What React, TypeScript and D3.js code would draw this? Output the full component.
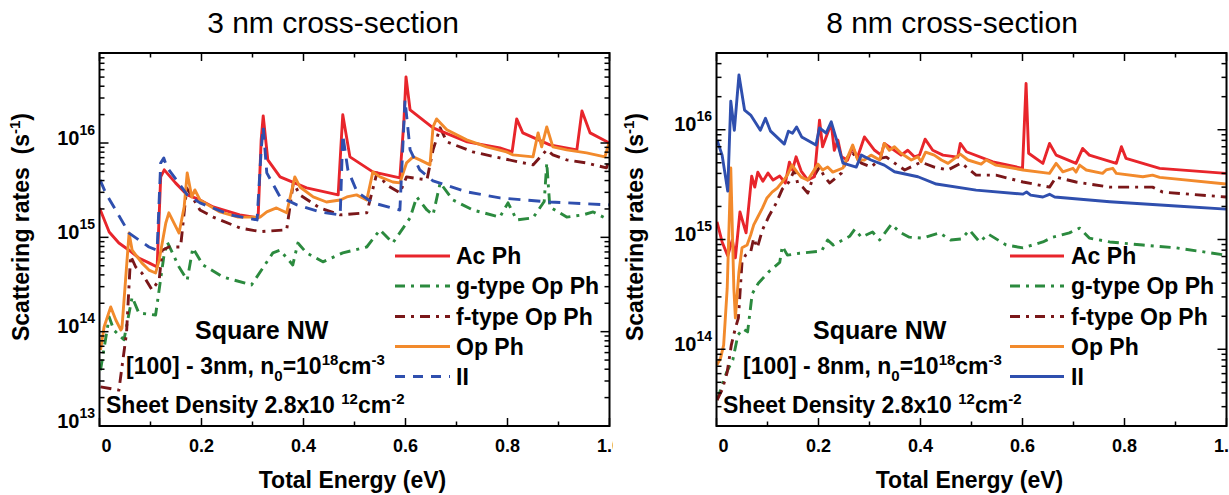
import React from 'react';
import * as d3 from 'd3';

type Pt = [number, number];

// ---------- shared labels ----------
const seriesNames = ['Ac Ph', 'g-type Op Ph', 'f-type Op Ph', 'Op Ph', 'II'];
const xMajorTicks = [0, 0.2, 0.4, 0.6, 0.8, 1.0];
const xTickLabels = ['0', '0.2', '0.4', '0.6', '0.8', '1.0'];
const leftYExponents = [13, 14, 15, 16];
const rightYExponents = [14, 15, 16];

// ---------- 3 nm panel (energy eV, rate s^-1) ----------
const left_AcPh: Pt[] = [[0.0,2.05e15],[0.019,1.14e15],[0.038,8.7e14],[0.058,7.3e14],[0.077,6.05e14],[0.097,5.36e14],[0.113,4.85e14],[0.120,4.37e15],[0.127,5.19e15],[0.149,3.78e15],[0.172,2.82e15],[0.197,2.49e15],[0.223,2.10e15],[0.275,1.73e15],[0.311,1.61e15],[0.317,1.08e16],[0.321,1.94e16],[0.330,6.62e15],[0.354,4.37e15],[0.406,3.34e15],[0.468,2.82e15],[0.473,8.45e15],[0.477,1.99e16],[0.491,7.13e15],[0.536,4.94e15],[0.589,4.27e15],[0.597,1.76e16],[0.601,5.02e16],[0.609,2.24e16],[0.654,1.45e16],[0.721,1.03e16],[0.785,8.87e15],[0.809,8.05e15],[0.818,1.80e16],[0.830,1.28e16],[0.883,9.55e15],[0.936,8.45e15],[0.946,2.19e16],[0.962,1.28e16],[1.0,1.0e16]];
const left_gType: Pt[] = [[0.002,3.9e13],[0.019,1.43e14],[0.028,1.04e14],[0.048,8.2e13],[0.064,2.33e14],[0.077,1.58e14],[0.110,1.5e14],[0.126,6.2e14],[0.133,8.9e14],[0.156,4.85e14],[0.172,3.53e14],[0.183,7.7e14],[0.203,5.1e14],[0.242,3.8e14],[0.298,3.13e14],[0.340,6.85e14],[0.354,7.3e14],[0.379,5.1e14],[0.389,8.7e14],[0.406,6.85e14],[0.438,5.5e14],[0.477,6.85e14],[0.524,7.9e14],[0.550,1.2e15],[0.575,8.7e14],[0.609,1.61e15],[0.622,2.68e15],[0.642,1.95e15],[0.654,1.73e15],[0.668,3.78e15],[0.693,2.49e15],[0.732,1.95e15],[0.785,1.64e15],[0.801,2.32e15],[0.818,1.53e15],[0.850,1.61e15],[0.872,2.4e15],[0.877,6.15e15],[0.883,2.10e15],[0.916,1.64e15],[0.948,1.73e15],[0.968,1.86e15],[0.999,1.53e15]];
const left_fType: Pt[] = [[0.002,2.6e13],[0.038,2.4e13],[0.044,4.2e13],[0.053,9.7e13],[0.061,6.35e14],[0.071,4.85e14],[0.083,4.19e14],[0.103,2.77e14],[0.117,3.53e14],[0.123,7.3e14],[0.136,7.9e14],[0.159,7.9e14],[0.171,3.34e15],[0.197,1.95e15],[0.223,1.64e15],[0.275,1.26e15],[0.315,1.15e15],[0.367,1.2e15],[0.380,3.78e15],[0.393,2.82e15],[0.432,2.05e15],[0.472,1.73e15],[0.524,1.82e15],[0.544,4.82e15],[0.563,3.6e15],[0.589,2.96e15],[0.602,4.37e15],[0.642,4.06e15],[0.654,8.45e15],[0.668,1.45e16],[0.681,1.03e16],[0.732,8.05e15],[0.785,6.95e15],[0.850,5.86e15],[0.877,8.45e15],[0.889,7.48e15],[0.916,6.62e15],[0.955,6.15e15],[0.994,5.45e15],[0.999,6.62e15]];
const left_OpPh: Pt[] = [[0.002,6.4e13],[0.009,1.12e14],[0.022,1.83e14],[0.032,1.33e14],[0.042,1.04e14],[0.044,1.09e14],[0.058,1.11e15],[0.064,7.3e14],[0.074,6.2e14],[0.083,5.36e14],[0.097,4.5e14],[0.110,4.19e14],[0.117,5.75e14],[0.130,1.42e15],[0.136,1.82e15],[0.156,1.11e15],[0.166,2.10e15],[0.172,4.82e15],[0.181,2.68e15],[0.187,3.18e15],[0.197,2.49e15],[0.236,1.86e15],[0.272,1.64e15],[0.315,1.64e15],[0.328,1.86e15],[0.347,2.05e15],[0.367,1.82e15],[0.383,4.37e15],[0.393,3.42e15],[0.419,2.68e15],[0.445,2.37e15],[0.472,2.49e15],[0.485,2.68e15],[0.504,2.82e15],[0.524,2.49e15],[0.536,4.94e15],[0.550,4.37e15],[0.575,3.86e15],[0.589,3.78e15],[0.602,6.15e15],[0.615,7.13e15],[0.628,6.62e15],[0.648,5.86e15],[0.654,1.48e16],[0.661,1.80e16],[0.681,1.38e16],[0.720,1.08e16],[0.759,9.1e15],[0.798,8.05e15],[0.811,7.48e15],[0.850,7.13e15],[0.860,1.28e16],[0.867,9.1e15],[0.877,1.48e16],[0.889,9.1e15],[0.916,8.45e15],[0.955,7.85e15],[0.991,7.13e15],[0.999,1.0e16]];
const left_II: Pt[] = [[0.001,4.06e15],[0.012,2.96e15],[0.058,1.11e15],[0.097,7.9e14],[0.113,7.3e14],[0.120,6.15e15],[0.126,6.95e15],[0.132,5.58e15],[0.172,2.82e15],[0.197,2.32e15],[0.256,1.73e15],[0.309,1.53e15],[0.317,8.45e15],[0.321,1.48e16],[0.328,4.82e15],[0.354,2.68e15],[0.387,2.21e15],[0.432,1.86e15],[0.472,1.73e15],[0.477,1.22e16],[0.487,5.19e15],[0.505,3.03e15],[0.536,2.32e15],[0.589,1.95e15],[0.599,2.86e16],[0.609,8.45e15],[0.628,5.19e15],[0.654,3.96e15],[0.721,3.03e15],[0.785,2.62e15],[0.883,2.37e15],[0.999,2.21e15]];

// ---------- 8 nm panel ----------
const right_AcPh: Pt[] = [[0.001,1.45e15],[0.011,9.5e14],[0.022,7.1e14],[0.031,9.9e14],[0.037,6.8e14],[0.046,1.78e15],[0.058,1.15e15],[0.069,3.78e15],[0.075,3.0e15],[0.081,4.1e15],[0.091,3.4e15],[0.101,4.03e15],[0.111,3.48e15],[0.124,3.78e15],[0.135,3.27e15],[0.143,5.07e15],[0.149,4.3e15],[0.156,5.67e15],[0.166,4.2e15],[0.179,3.48e15],[0.192,3.73e15],[0.202,1.22e16],[0.208,7.0e15],[0.215,8.6e15],[0.225,1.14e16],[0.231,6.5e15],[0.238,8.05e15],[0.245,5.67e15],[0.257,5.3e15],[0.267,7.0e15],[0.276,5.52e15],[0.290,8.6e15],[0.310,6.5e15],[0.323,5.87e15],[0.329,7.5e15],[0.343,6.76e15],[0.362,5.87e15],[0.375,6.5e15],[0.388,5.67e15],[0.398,5.87e15],[0.409,8.2e15],[0.424,6.5e15],[0.444,5.87e15],[0.473,5.63e15],[0.478,7.5e15],[0.490,6.3e15],[0.542,5.1e15],[0.600,4.45e15],[0.607,2.64e16],[0.612,6.1e15],[0.640,4.94e15],[0.653,7.5e15],[0.666,5.87e15],[0.705,4.94e15],[0.718,6.76e15],[0.731,5.87e15],[0.784,4.94e15],[0.794,7.0e15],[0.803,5.48e15],[0.869,4.45e15],[0.999,4.0e15]];
const right_gType: Pt[] = [[0.001,3.45e13],[0.020,6.2e13],[0.032,8.0e13],[0.042,1.35e14],[0.052,1.53e14],[0.061,1.44e14],[0.070,3.2e14],[0.082,4.0e14],[0.104,5.16e14],[0.124,6.2e14],[0.129,8.7e14],[0.139,7.2e14],[0.163,7.5e14],[0.206,7.85e14],[0.218,9.9e14],[0.229,8.9e14],[0.261,1.07e15],[0.271,1.24e15],[0.284,1.05e15],[0.306,1.17e15],[0.320,9.9e14],[0.343,1.38e15],[0.359,1.17e15],[0.378,1.05e15],[0.404,1.03e15],[0.437,1.15e15],[0.459,9.9e14],[0.480,1.01e15],[0.496,1.22e15],[0.516,9.5e14],[0.533,1.12e15],[0.568,8.9e14],[0.601,8.4e14],[0.640,9.5e14],[0.659,1.05e15],[0.692,1.15e15],[0.712,1.27e15],[0.731,1.03e15],[0.771,9.5e14],[0.836,8.9e14],[0.901,8.4e14],[0.999,7.2e14]];
const right_fType: Pt[] = [[0.001,3.45e13],[0.011,4.26e13],[0.021,6.2e13],[0.029,1.09e14],[0.037,1.56e14],[0.043,1.93e14],[0.050,6.2e14],[0.057,7.2e14],[0.067,7.7e14],[0.073,1.03e15],[0.080,8.4e14],[0.090,1.22e15],[0.103,1.64e15],[0.116,2.1e15],[0.129,2.88e15],[0.142,3.34e15],[0.153,4.3e15],[0.159,3.27e15],[0.169,3.0e15],[0.179,2.65e15],[0.189,3.63e15],[0.202,4.57e15],[0.212,3.7e15],[0.222,3.27e15],[0.245,4.03e15],[0.257,5.63e15],[0.267,6.12e15],[0.284,4.97e15],[0.303,4.57e15],[0.323,5.52e15],[0.333,5.63e15],[0.349,4.97e15],[0.369,4.3e15],[0.401,5.07e15],[0.427,4.57e15],[0.454,4.3e15],[0.480,4.97e15],[0.509,3.86e15],[0.548,3.86e15],[0.601,3.34e15],[0.653,3.0e15],[0.666,3.7e15],[0.705,3.34e15],[0.771,3.0e15],[0.855,3.0e15],[0.875,2.7e15],[0.999,2.44e15]];
const right_OpPh: Pt[] = [[0.001,7.2e13],[0.008,8.3e13],[0.014,1.09e14],[0.021,3.6e14],[0.028,4.48e15],[0.034,3.6e14],[0.037,1.93e14],[0.044,5.06e14],[0.050,8.4e14],[0.060,8.9e14],[0.067,1.1e15],[0.073,1.36e15],[0.080,1.57e15],[0.090,1.93e15],[0.099,2.39e15],[0.109,2.7e15],[0.119,2.94e15],[0.129,3.34e15],[0.139,3.86e15],[0.148,4.76e15],[0.158,4.11e15],[0.166,3.7e15],[0.179,3.48e15],[0.199,4.86e15],[0.208,4.3e15],[0.218,4.57e15],[0.228,4.11e15],[0.248,4.48e15],[0.257,5.63e15],[0.267,7.25e15],[0.277,5.3e15],[0.290,5.3e15],[0.303,5.87e15],[0.320,5.3e15],[0.329,7.5e15],[0.339,6.5e15],[0.349,7.0e15],[0.362,6.1e15],[0.382,5.3e15],[0.395,5.67e15],[0.401,5.1e15],[0.410,6.25e15],[0.427,5.87e15],[0.441,5.3e15],[0.454,4.94e15],[0.478,6.0e15],[0.493,5.3e15],[0.519,4.86e15],[0.529,5.3e15],[0.548,4.76e15],[0.601,4.3e15],[0.653,4.0e15],[0.666,4.94e15],[0.679,4.14e15],[0.699,4.45e15],[0.705,4.11e15],[0.712,4.76e15],[0.725,4.3e15],[0.757,4.0e15],[0.764,4.3e15],[0.777,4.45e15],[0.784,4.0e15],[0.836,3.73e15],[0.855,3.86e15],[0.869,3.68e15],[0.999,3.2e15]];
const right_II: Pt[] = [[0.001,8.05e15],[0.011,5.87e15],[0.022,2.76e15],[0.028,1.82e16],[0.035,9.9e15],[0.044,3.15e16],[0.055,1.51e16],[0.067,1.36e16],[0.086,9.9e15],[0.096,1.27e16],[0.106,9.7e15],[0.133,7.4e15],[0.141,9.7e15],[0.149,9.3e15],[0.157,1.06e16],[0.167,8.6e15],[0.195,7.25e15],[0.202,1.04e16],[0.215,9.3e15],[0.225,1.18e16],[0.235,8.2e15],[0.248,4.97e15],[0.274,4.57e15],[0.284,5.87e15],[0.303,5.3e15],[0.329,4.76e15],[0.349,4.14e15],[0.395,3.73e15],[0.431,3.2e15],[0.509,2.82e15],[0.601,2.59e15],[0.608,2.71e15],[0.616,2.54e15],[0.640,2.44e15],[0.653,2.58e15],[0.663,2.44e15],[0.771,2.21e15],[0.901,2.02e15],[0.999,1.89e15]];

const FONT = "'Liberation Sans', Arial, Helvetica, sans-serif";

const C_AC = '#e8252b';
const C_G = '#2b8a3e';
const C_F = '#7a1719';
const C_OP = '#f28a2c';
const C_II = '#2f4fae';

type PanelCfg = {
  id: string;
  title: string;
  titleX: number;
  x0: number; x1: number; y0: number; y1: number;
  yDomain: [number, number];
  yExps: number[];
  ylabelX: number;
  annX: [number, number, number];
  nm: string;
  legX0: number; legX1: number; legTextX: number;
  clipRight: number | null;
  iiDashed: boolean;
  data: { ac: Pt[]; g: Pt[]; f: Pt[]; op: Pt[]; ii: Pt[] };
};

function Panel({ p }: { p: PanelCfg }) {
  const x = d3.scaleLinear().domain([0, 1]).range([p.x0, p.x1]);
  const y = d3.scaleLog().domain(p.yDomain).range([p.y1, p.y0]);
  const line = d3.line<Pt>().x(d => x(d[0])).y(d => y(d[1]));

  const minor: { v: number; major: boolean }[] = [];
  const lo = Math.floor(Math.log10(p.yDomain[0]));
  const hi = Math.ceil(Math.log10(p.yDomain[1]));
  for (let e = lo; e <= hi; e++) {
    for (let m = 1; m <= 9; m++) {
      const v = m * Math.pow(10, e);
      if (v >= p.yDomain[0] * 0.999 && v <= p.yDomain[1] * 1.001) minor.push({ v, major: m === 1 });
    }
  }
  const xt = d3.range(0, 1.0001, 0.1);

  const styles = [
    { d: p.data.g, color: C_G, dash: '11,6,3,6' },
    { d: p.data.f, color: C_F, dash: '11,6,3,6' },
    { d: p.data.ac, color: C_AC, dash: undefined },
    { d: p.data.op, color: C_OP, dash: undefined },
    { d: p.data.ii, color: C_II, dash: p.iiDashed ? '12,8' : undefined },
  ];
  const legendStyles = [
    { color: C_AC, dash: undefined },
    { color: C_G, dash: '10,6,3,6' },
    { color: C_F, dash: '10,6,3,6' },
    { color: C_OP, dash: undefined },
    { color: C_II, dash: p.iiDashed ? '10,8' : undefined },
  ];
  const legRows = [256, 286, 316.5, 346.5, 376.5];
  const cx = (p.x0 + p.x1) / 2;
  const sup = 15;

  return (
    <g clipPath={p.clipRight ? `url(#${p.id}-pclip)` : undefined}>
      <defs>
        <clipPath id={`${p.id}-clip`}>
          <rect x={p.x0} y={p.y0} width={p.x1 - p.x0} height={p.y1 - p.y0} />
        </clipPath>
        {p.clipRight ? (
          <clipPath id={`${p.id}-pclip`}>
            <rect x={0} y={0} width={p.clipRight} height={495} />
          </clipPath>
        ) : null}
      </defs>
      <text x={p.titleX} y={33} textAnchor="middle" fontSize={30} fontFamily={FONT}>{p.title}</text>

      <g clipPath={`url(#${p.id}-clip)`}>
        {styles.map((s, i) => (
          <path key={i} d={line(s.d) || ''} fill="none" stroke={s.color} strokeWidth={2.9}
            strokeDasharray={s.dash} strokeLinejoin="round" />
        ))}
      </g>

      {/* frame */}
      <rect x={p.x0} y={p.y0} width={p.x1 - p.x0} height={p.y1 - p.y0} fill="none" stroke="#000" strokeWidth={2} />
      {/* y ticks */}
      {minor.map((t, i) => {
        const yy = y(t.v);
        const len = t.major ? 9 : 5;
        return (
          <g key={i}>
            <line x1={p.x0} x2={p.x0 + len} y1={yy} y2={yy} stroke="#000" strokeWidth={1.5} />
            <line x1={p.x1} x2={p.x1 - len} y1={yy} y2={yy} stroke="#000" strokeWidth={1.5} />
          </g>
        );
      })}
      {/* x ticks */}
      {xt.map((v, i) => {
        const xx = x(v);
        const major = i % 2 === 0;
        const len = major ? 8 : 4.5;
        return (
          <g key={i}>
            <line x1={xx} x2={xx} y1={p.y1} y2={p.y1 - len} stroke="#000" strokeWidth={1.5} />
            <line x1={xx} x2={xx} y1={p.y0} y2={p.y0 + len} stroke="#000" strokeWidth={1.5} />
          </g>
        );
      })}
      {xMajorTicks.map((v, i) => (
        <text key={i} x={x(v) + (i === 0 ? 7 : 0)} y={452} textAnchor="middle" fontSize={18}
          fontWeight="bold" fontFamily={FONT}>{xTickLabels[i]}</text>
      ))}
      {p.yExps.map(e => (
        <text key={e} x={p.x0 - 4.5} y={y(Math.pow(10, e)) + 1.5} textAnchor="end" fontSize={20}
          fontWeight="bold" fontFamily={FONT}>10<tspan dy={-10} fontSize={14}>{e}</tspan></text>
      ))}

      {/* axis titles */}
      <text transform={`translate(${p.ylabelX},227) rotate(-90)`} textAnchor="middle" fontSize={23}
        fontWeight="bold" fontFamily={FONT}>
        Scattering rates{'\u00a0 '}(s<tspan dy={-9} fontSize={sup}>-1</tspan><tspan dy={9}>)</tspan>
      </text>
      <text x={cx - 2} y={488} textAnchor="middle" fontSize={23} fontWeight="bold" fontFamily={FONT}>Total Energy (eV)</text>

      {/* annotation */}
      <g fontSize={23} fontWeight="bold" fontFamily={FONT}>
        <text x={p.annX[0]} y={339} fontSize={25}>Square NW</text>
        <text x={p.annX[1]} y={374}>
          [100] - {p.nm}, n<tspan dy={7} fontSize={sup}>0</tspan><tspan dy={-7}>=10</tspan>
          <tspan dy={-9} fontSize={sup}>18</tspan><tspan dy={9}>cm</tspan><tspan dy={-9} fontSize={sup}>-3</tspan>
        </text>
        <text x={p.annX[2]} y={413}>
          Sheet Density 2.8x10{' '}<tspan dy={-9} fontSize={sup}>12</tspan><tspan dy={9}>cm</tspan>
          <tspan dy={-9} fontSize={sup}>-2</tspan>
        </text>
      </g>

      {/* legend */}
      {seriesNames.map((n, i) => (
        <g key={n}>
          <line x1={p.legX0} x2={p.legX1} y1={legRows[i]} y2={legRows[i]} stroke={legendStyles[i].color}
            strokeWidth={2.9} strokeDasharray={legendStyles[i].dash} />
          <text x={p.legTextX} y={legRows[i] + 8} fontSize={23} fontWeight="bold" fontFamily={FONT}>{n}</text>
        </g>
      ))}
    </g>
  );
}

const leftPanel: PanelCfg = {
  id: 'p3', title: '3 nm cross-section', titleX: 333,
  x0: 99.5, x1: 609.5, y0: 53, y1: 426,
  yDomain: [1e13, 9e16], yExps: leftYExponents, ylabelX: 28.5,
  annX: [195, 126, 106], nm: '3nm',
  legX0: 395, legX1: 450, legTextX: 456,
  clipRight: 613, iiDashed: true,
  data: { ac: left_AcPh, g: left_gType, f: left_fType, op: left_OpPh, ii: left_II },
};

const rightPanel: PanelCfg = {
  id: 'p8', title: '8 nm cross-section', titleX: 952,
  x0: 716.5, x1: 1226.5, y0: 53, y1: 426,
  yDomain: [2e13, 5e16], yExps: rightYExponents, ylabelX: 643,
  annX: [813, 743, 723], nm: '8nm',
  legX0: 1010, legX1: 1064, legTextX: 1071,
  clipRight: null, iiDashed: false,
  data: { ac: right_AcPh, g: right_gType, f: right_fType, op: right_OpPh, ii: right_II },
};

export default function App() {
  return (
    <svg width={1229} height={495} style={{ position: 'absolute', left: 0, top: 0, background: '#fff' }}>
      <rect x={0} y={0} width={1229} height={495} fill="#fff" />
      <Panel p={leftPanel} />
      <Panel p={rightPanel} />
    </svg>
  );
}
